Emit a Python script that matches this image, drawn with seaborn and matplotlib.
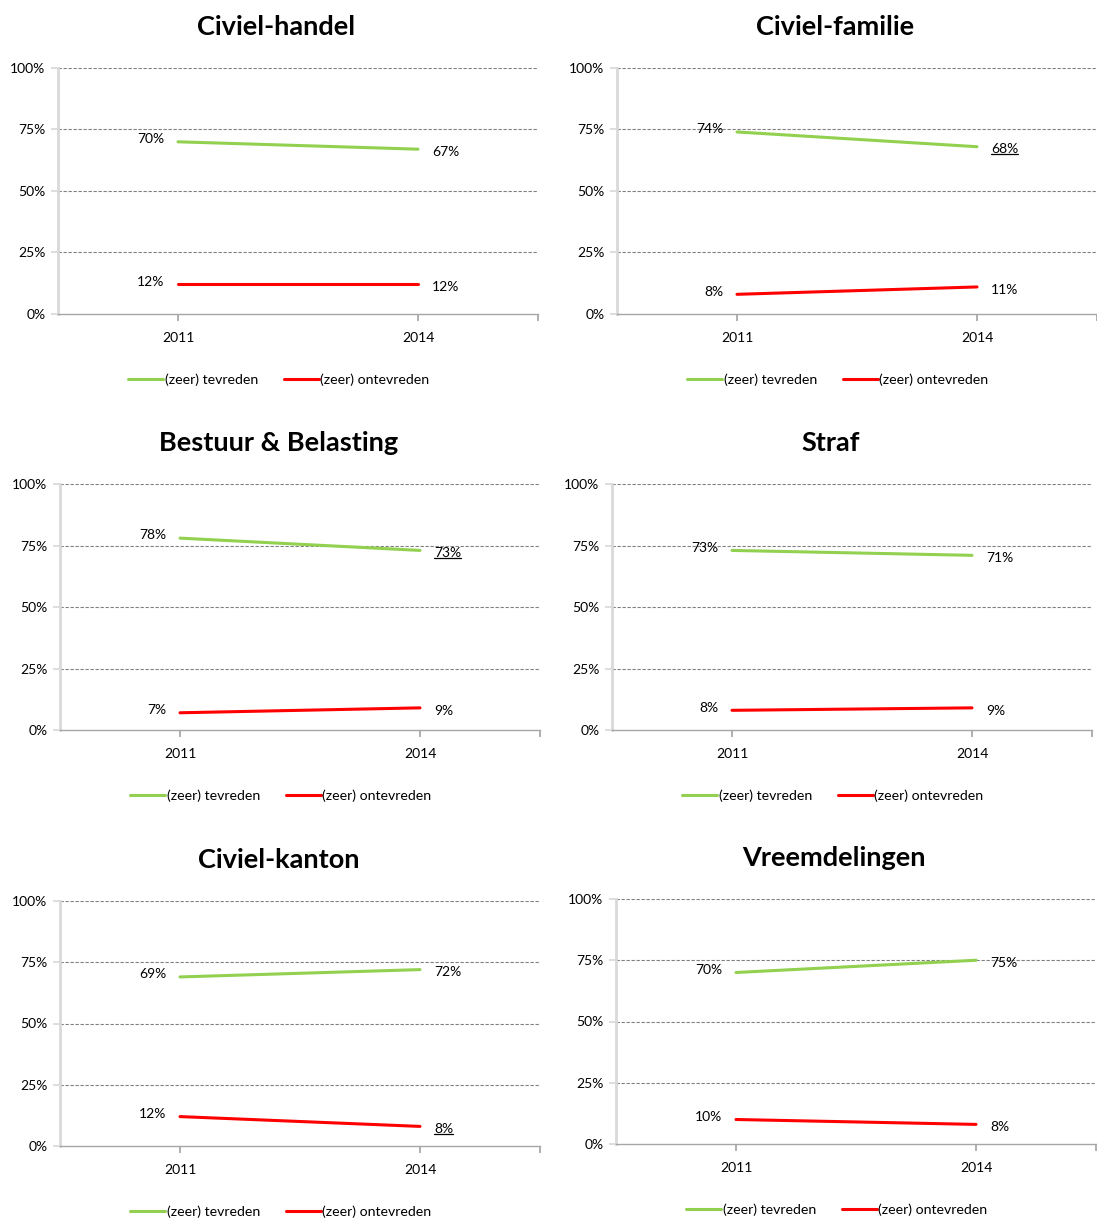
import matplotlib
matplotlib.use("Agg")
import matplotlib.pyplot as plt
from matplotlib.lines import Line2D
import seaborn as sns
import pandas as pd

sns.set_theme(style="white")
plt.rcParams['font.family'] = ['Lato', 'DejaVu Sans']
plt.rcParams['text.color'] = 'black'

years = ["2011", "2014"]
series_names = ["(zeer) tevreden", "(zeer) ontevreden"]
colors = ["#92D050", "#FF0000"]

titles = ["Civiel-handel", "Civiel-familie", "Bestuur & Belasting", "Straf",
          "Civiel-kanton", "Vreemdelingen"]
tevreden = [[70, 67], [74, 68], [78, 73], [73, 71], [69, 72], [70, 75]]
ontevreden = [[12, 12], [8, 11], [7, 9], [8, 9], [12, 8], [10, 8]]
# which 2014 labels are underlined (series index) in each panel
underlined = [None, 0, 0, None, 1, None]

W, H = 1097, 1219
# panel boxes in pixels: left, right, top, bottom
boxes = [(58, 538, 68, 314), (617, 1097, 68, 314),
         (60, 540, 484, 730), (612, 1092, 484, 730),
         (60, 540, 901, 1146), (616, 1096, 899, 1144)]

fig = plt.figure(figsize=(W / 100, H / 100), dpi=100)
to_underline = []

for i, title in enumerate(titles):
    l, r, t, b = boxes[i]
    ax = fig.add_axes([l / W, 1 - b / H, (r - l) / W, (b - t) / H])
    df = pd.DataFrame({
        "x": [0, 1, 0, 1],
        "Year": years + years,
        "value": tevreden[i] + ontevreden[i],
        "series": [series_names[0]] * 2 + [series_names[1]] * 2,
    })
    sns.lineplot(data=df, x="x", y="value", hue="series", hue_order=series_names,
                 palette=colors, linewidth=2.2, ax=ax, legend=True)
    ax.set_xlim(-0.5, 1.5)
    ax.set_ylim(0, 100)
    ax.set_yticks([0, 25, 50, 75, 100])
    ax.set_yticklabels([f"{v}%" for v in [0, 25, 50, 75, 100]], fontsize=10)
    ax.set_xticks([0, 1, 1.5])
    ax.set_xticklabels(years + [""], fontsize=10)
    ax.set_xlabel("")
    ax.set_ylabel("")
    for yv in [25, 50, 75, 100]:
        ax.axhline(yv, color="#808080", linestyle=(0, (3, 1.5)), linewidth=0.8, zorder=0)
    for s in ["top", "right"]:
        ax.spines[s].set_visible(False)
    ax.spines["left"].set_color("#D9D9D9")
    ax.spines["left"].set_linewidth(2.0)
    ax.spines["bottom"].set_color("#A6A6A6")
    ax.spines["bottom"].set_linewidth(1.0)
    ax.tick_params(axis="x", bottom=True, length=5, color="#A6A6A6", pad=8, labelcolor="black")
    ax.tick_params(axis="y", left=True, length=5, color="#D9D9D9", pad=4, labelcolor="black")

    for sidx, vals in enumerate([tevreden[i], ontevreden[i]]):
        ax.annotate(f"{vals[0]}%", (0, vals[0]), xytext=(-10, 2), textcoords="offset points",
                    ha="right", va="center", fontsize=10)
        tx = ax.annotate(f"{vals[1]}%", (1, vals[1]), xytext=(10, -2), textcoords="offset points",
                         ha="left", va="center", fontsize=10)
        if underlined[i] == sidx:
            to_underline.append(tx)

    ax.set_title(title, fontsize=19.5, fontweight="bold", pad=24, x=0.455, color="black")
    leg = ax.legend(loc="upper center", bbox_to_anchor=(0.46, -0.19), ncol=2, frameon=False,
                    fontsize=10.2, handlelength=2.5, handletextpad=0.1, columnspacing=1.8)
    for line in leg.get_lines():
        line.set_linewidth(2.2)

fig.canvas.draw()
renderer = fig.canvas.get_renderer()
for tx in to_underline:
    bb = tx.get_window_extent(renderer)
    y = bb.y0 + 1
    fig.add_artist(Line2D([bb.x0 / W, bb.x1 / W], [y / H, y / H], color="black",
                          linewidth=0.9, transform=fig.transFigure))

fig.savefig("out.png", dpi=100)
